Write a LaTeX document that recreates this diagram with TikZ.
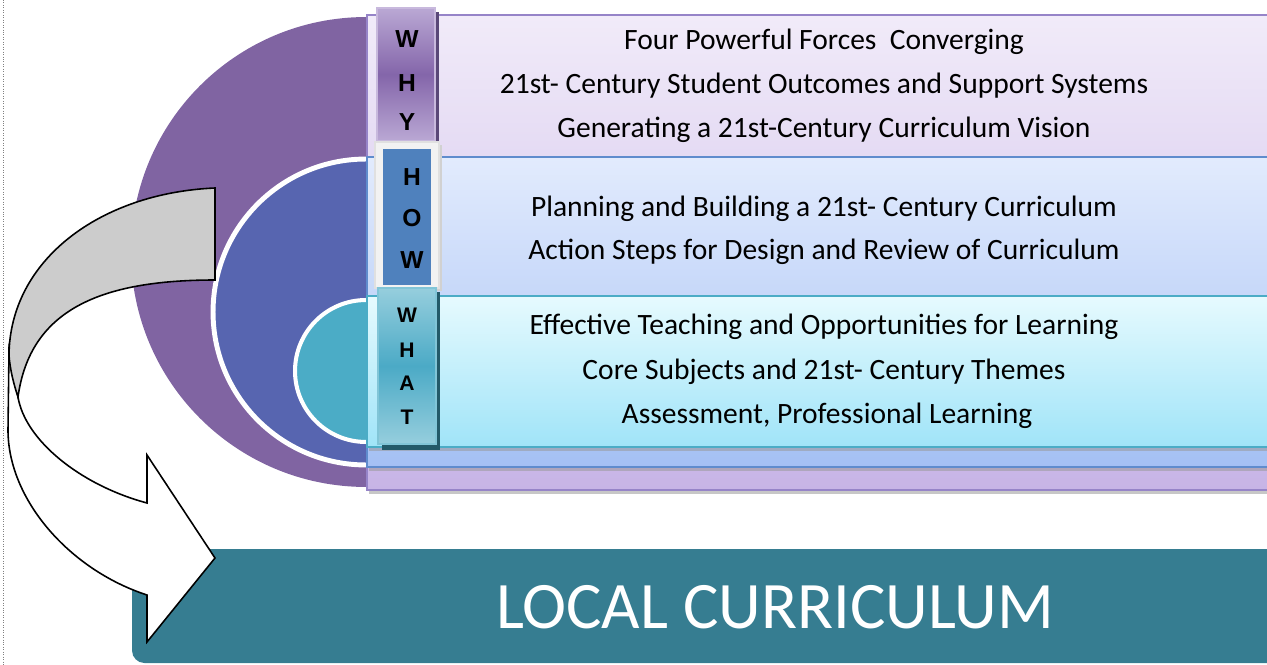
\documentclass[tikz,border=0pt]{standalone}
\usepackage{fontspec}
\setmainfont{Carlito}
\newfontfamily\tabfont{Liberation Sans}
\definecolor{purp}{RGB}{128,100,162}
\definecolor{bluec}{RGB}{87,101,176}
\definecolor{tealc}{RGB}{75,172,198}
\definecolor{barc}{RGB}{54,125,145}
\definecolor{purptop}{RGB}{241,235,249}
\definecolor{purpbot}{RGB}{199,180,230}
\definecolor{purpline}{RGB}{150,132,200}
\definecolor{bluetop}{RGB}{226,235,253}
\definecolor{bluebot}{RGB}{164,192,244}
\definecolor{blueline}{RGB}{95,140,205}
\definecolor{tealtop}{RGB}{230,250,254}
\definecolor{tealbot}{RGB}{160,228,248}
\definecolor{tealline}{RGB}{75,172,198}
\definecolor{whylight}{RGB}{186,168,212}
\definecolor{whydark}{RGB}{132,102,170}
\definecolor{whyshadow}{RGB}{90,72,120}
\definecolor{howblue}{RGB}{79,129,189}
\definecolor{whatlight}{RGB}{150,206,221}
\definecolor{whatdark}{RGB}{75,170,198}
\definecolor{whatshadow}{RGB}{35,90,105}
\definecolor{arrowgray}{RGB}{204,204,204}
\begin{document}
\begin{tikzpicture}[x=0.02cm,y=-0.02cm,
  bodytext/.style={font=\fontsize{16.8}{19}\selectfont, anchor=base, text=black, inner sep=0pt},
  tabletter/.style={font=\tabfont\bfseries\fontsize{14}{16}\selectfont, inner sep=0pt, text=black},
  smallletter/.style={font=\tabfont\bfseries\fontsize{12}{14}\selectfont, inner sep=0pt, text=black},
  rectshadow/.style={fill=black!40, opacity=0.55},
  arrowpart/.style={draw=black, line width=0.9pt, line join=miter}]
\useasboundingbox (0,0) rectangle (1267,665);
\clip (0,0) rectangle (1267,665);
\draw[gray, densely dotted, line width=0.4pt] (3,0) -- (3,665);

% circles
\fill[purp] (366,252) circle[radius=4.7cm];
\filldraw[fill=bluec, draw=white, line width=2.8pt] (366,312) circle[radius=3.06cm];
\filldraw[fill=tealc, draw=white, line width=2.3pt] (366,371) circle[radius=1.42cm];

% bands
\fill[rectshadow] (369,18) rectangle (1290,494);
\draw[purpline, line width=1pt, top color=purptop, bottom color=purpbot] (367,15) rectangle (1290,490);
\fill[rectshadow] (369,160) rectangle (1290,471);
\draw[blueline, line width=1pt, top color=bluetop, bottom color=bluebot] (367,157) rectangle (1290,467);
\fill[rectshadow] (369,299) rectangle (1290,451);
\draw[tealline, line width=1pt, top color=tealtop, bottom color=tealbot] (367,296) rectangle (1290,447);

% WHY tab
\fill[whyshadow] (381,12) rectangle (439,144);
\draw[whylight!80!white, line width=0.8pt, top color=whylight, bottom color=whylight, middle color=whydark] (377,8) rectangle (435,141);
\node[tabletter] (why1) at (407,39) {W};
\node[tabletter] (why2) at (407,83) {H};
\node[tabletter] (why3) at (407,122) {Y};

% HOW tab
\fill[black!18] (378,145) rectangle (442,291);
\draw[black!12, fill=black!5, line width=0.6pt] (375,142) rectangle (439,288);
\fill[howblue] (383,149) rectangle (431,285);
\node[tabletter] (how1) at (412,177) {H};
\node[tabletter] (how2) at (412,218) {O};
\node[tabletter] (how3) at (412,260) {W};

% WHAT tab
\fill[whatshadow] (382,292) rectangle (440,450);
\draw[tealc!70!white, line width=0.8pt, top color=whatlight, bottom color=whatlight, middle color=whatdark] (378,288) rectangle (436,444);
\node[smallletter] (what1) at (407,315) {W};
\node[smallletter] (what2) at (407,350) {H};
\node[smallletter] (what3) at (407,383) {A};
\node[smallletter] (what4) at (407,417) {T};

% texts
\node[bodytext] (t1) at (824,50) {Four Powerful Forces\ \ Converging};
\node[bodytext] (t2) at (824,94) {21st- Century Student Outcomes and Support Systems};
\node[bodytext] (t3) at (824,138) {Generating a 21st-Century Curriculum Vision};
\node[bodytext] (t4) at (824,217) {Planning and Building a 21st- Century Curriculum};
\node[bodytext] (t5) at (824,260) {Action Steps for Design and Review of Curriculum};
\node[bodytext] (t6) at (824,335) {Effective Teaching and Opportunities for Learning};
\node[bodytext] (t7) at (824,379) {Core Subjects and 21st- Century Themes};
\node[bodytext] (t8) at (827,423) {Assessment, Professional Learning};

% bottom bar
\fill[barc, rounded corners=0.25cm] (132,549) rectangle (1300,663);
\node[font=\fontsize{37.8}{40}\selectfont, text=white, inner sep=0pt] (local) at (775,607) {LOCAL CURRICULUM};

% curved arrow
\path[arrowpart, fill=white] (9,350) -- (8,430) .. controls (8,500) and (70,570) .. (147,595)
  -- (147,642) -- (215,558) -- (147,455) -- (147,503)
  .. controls (80,485) and (25,440) .. (18,397) -- cycle;
\path[arrowpart, fill=arrowgray] (215,188) .. controls (100,193) and (10,260) .. (9,355)
  .. controls (10,370) and (14,385) .. (18,397)
  .. controls (30,310) and (100,280) .. (215,280) -- cycle;
\end{tikzpicture}
\end{document}
